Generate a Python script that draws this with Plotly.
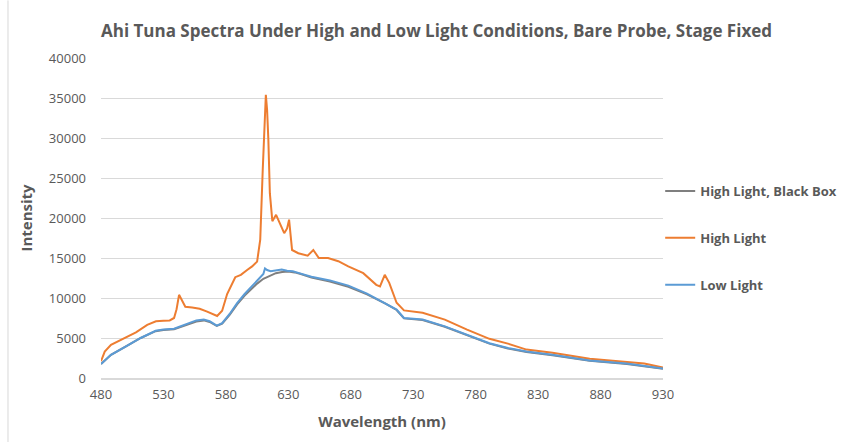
import plotly.graph_objects as go

# Wavelengths (nm) and intensities
wl_high = [480, 483, 488, 494, 500, 508, 517, 524, 530, 535, 538.5, 540.5, 542.5, 544.5, 547.5,
           553, 559, 565, 569, 573, 577, 581, 587.5, 592, 597, 601, 605, 607.5, 609.5, 611,
           612, 613, 614, 615.2, 617.2, 620.2, 623.2, 626.7, 629, 630.6, 633, 638, 645.5,
           650, 654.4, 661.8, 670, 678, 690, 700.4, 703.4, 707.2, 710.8, 716.7, 722.6,
           737.5, 755.3, 773.1, 791, 805.8, 820.7, 841.5, 871.3, 901, 915, 930]
int_high = [2100, 3300, 4150, 4600, 5000, 5700, 6650, 7080, 7150, 7200, 7500, 8600, 10400, 9800, 8900,
            8800, 8650, 8300, 8000, 7750, 8400, 10500, 12600, 12900, 13500, 13950, 14550, 17300, 26000, 33000,
            35400, 33500, 29800, 23100, 19600, 20400, 19400, 18100, 18700, 19800, 16000, 15600, 15300,
            16000, 15000, 15000, 14600, 13950, 13100, 11650, 11450, 12900, 11900, 9400, 8450,
            8150, 7300, 6050, 4900, 4300, 3550, 3150, 2400, 2000, 1800, 1300]

wl_low = [480, 483, 488, 500, 511.8, 523.7, 530, 538.5, 547.4, 556.3, 562.3, 567, 572.7, 577,
          583, 589, 595, 601, 605, 608.3, 610, 611.3, 613, 615.8, 620, 624.7, 629, 633.6, 640,
          648.5, 663.3, 678.1, 693, 707.8, 716.7, 722.6, 737.5, 755.3, 773.1, 791, 805.8,
          820.7, 841.5, 871.3, 901, 930]
int_low = [1750, 2200, 2900, 3950, 5000, 5900, 6050, 6150, 6650, 7200, 7300, 7100, 6550, 6850,
           8000, 9350, 10500, 11450, 12100, 12600, 13000, 13700, 13500, 13350, 13450, 13550, 13400, 13350, 13050,
           12650, 12200, 11550, 10550, 9350, 8550, 7500, 7300, 6450, 5400, 4350, 3750,
           3300, 2900, 2200, 1800, 1200]

wl_box = [480, 483, 488, 500, 511.8, 523.7, 530, 538.5, 547.4, 556.3, 562.3, 567, 572.7, 577,
          583, 589, 595, 601, 605, 610, 615, 620, 625, 630, 635, 640, 648.5, 663.3, 678.1,
          693, 707.8, 716.7, 722.6, 737.5, 755.3, 773.1, 791, 805.8, 820.7, 841.5, 871.3, 901, 930]
int_box = [1750, 2200, 2900, 3950, 5000, 5850, 6000, 6100, 6550, 7050, 7200, 7000, 6500, 6800,
           7900, 9200, 10300, 11200, 11800, 12400, 12800, 13100, 13250, 13300, 13200, 13000, 12550, 12050, 11400,
           10450, 9300, 8500, 7450, 7250, 6400, 5350, 4300, 3700, 3250, 2850, 2150, 1750, 1150]

x_ticks = [480, 530, 580, 630, 680, 730, 780, 830, 880, 930]
y_ticks = [0, 5000, 10000, 15000, 20000, 25000, 30000, 35000, 40000]
y_tick_labels = [str(v) for v in y_ticks]

txt = "#595959"
font_family = "Open Sans, Liberation Sans, sans-serif"

fig = go.Figure()
fig.add_trace(go.Scatter(x=wl_box, y=int_box, mode="lines", name="<b>High Light, Black Box</b>",
                         line=dict(color="#7f7f7f", width=2), legendgroup="a"))
fig.add_trace(go.Scatter(x=wl_high, y=int_high, mode="lines", name="<b>High Light</b>",
                         line=dict(color="#ED7D31", width=2), legendgroup="b"))
fig.add_trace(go.Scatter(x=wl_low, y=int_low, mode="lines", name="<b>Low Light</b>",
                         line=dict(color="#5B9BD5", width=2), legendgroup="c"))

fig.update_layout(
    width=850, height=443,
    margin=dict(l=101, r=187, t=58, b=65, autoexpand=False),
    paper_bgcolor="white", plot_bgcolor="white",
    font=dict(family=font_family, color=txt, size=13),
    title=dict(text="<b>Ahi Tuna Spectra Under High and Low Light Conditions, Bare Probe, Stage Fixed</b>",
               x=0.597, xanchor="center", y=0.93, yanchor="middle", xref="paper",
               font=dict(size=17, color=txt, family=font_family)),
    legend=dict(x=0.995, y=0.4375, xanchor="left", yanchor="middle",
                font=dict(size=13, color=txt, family=font_family),
                tracegroupgap=27, itemwidth=30, bgcolor="rgba(0,0,0,0)"),
    showlegend=True,
    shapes=[dict(type="line", xref="paper", yref="paper", x0=-0.1655, x1=-0.1655, y0=-0.2, y1=1.18,
                 line=dict(color="#d9d9d9", width=1))],
)
fig.update_xaxes(range=[480, 930], tickvals=x_ticks, showgrid=False, zeroline=False,
                 showline=True, linecolor="#d9d9d9", linewidth=1.5, ticks="",
                 tickfont=dict(size=13, color=txt), ticklabelstandoff=4,
                 title=dict(text="<b>Wavelength (nm)</b>", font=dict(size=15, color=txt), standoff=14))
fig.update_yaxes(range=[0, 40000], tickvals=y_ticks, ticktext=y_tick_labels,
                 showgrid=True, gridcolor="#d9d9d9", gridwidth=1,
                 zeroline=False, showline=False, ticks="",
                 tickfont=dict(size=13, color=txt), ticklabelstandoff=14,
                 title=dict(text="<b>Intensity</b>", font=dict(size=15, color=txt), standoff=12))

fig.write_html("out.html")
